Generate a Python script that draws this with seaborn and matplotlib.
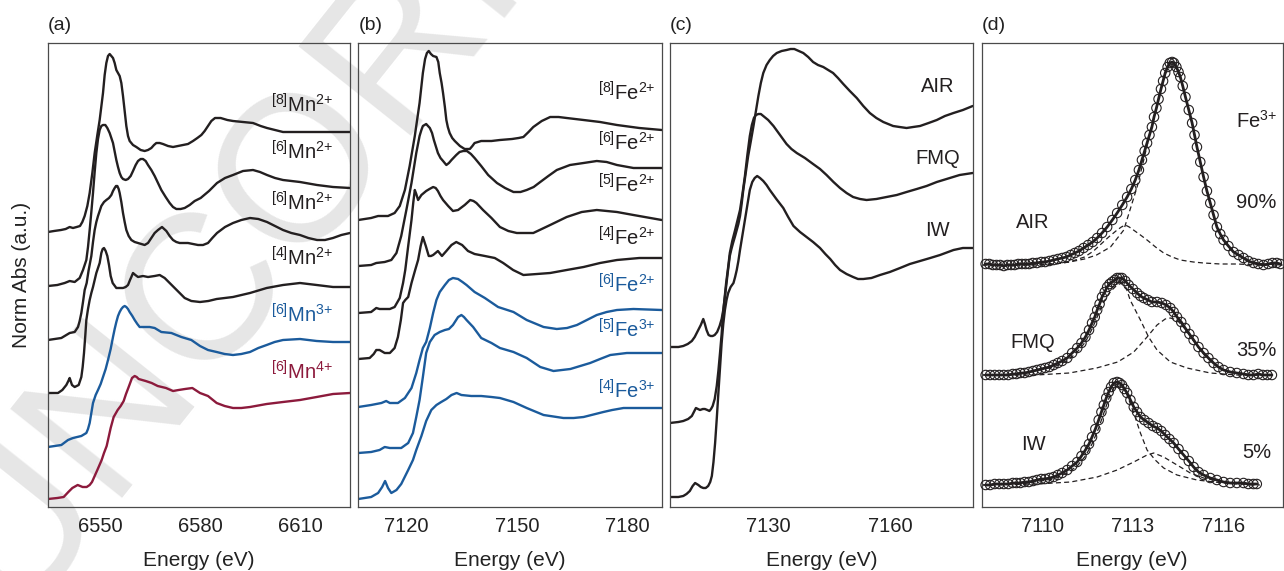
import matplotlib
matplotlib.use("Agg")
import matplotlib.pyplot as plt
import seaborn as sns

# ---------------- Panel (a): Mn K-edge standards ----------------
mn8_E = [6534.2, 6536.0, 6538.1, 6539.5, 6540.7, 6541.7, 6542.8, 6543.8, 6544.5, 6545.2, 6546.0, 6546.7, 6547.5, 6548.2, 6549.0, 6549.7, 6550.7, 6551.2, 6551.7, 6552.2, 6552.7, 6553.2, 6553.7, 6554.2, 6554.7, 6555.2, 6555.7, 6556.2, 6556.7, 6557.2, 6557.7, 6558.2, 6558.7, 6559.7, 6560.7, 6562.0, 6563.2, 6564.2, 6565.2, 6566.0, 6566.7, 6567.7, 6568.7, 6570.2, 6571.7, 6573.2, 6574.7, 6576.2, 6577.7, 6579.0, 6580.2, 6581.2, 6582.2, 6583.2, 6584.3, 6586.0, 6588.0, 6589.7, 6592.7, 6595.7, 6598.0, 6599.9, 6602.3, 6604.7, 6609.8, 6617.3, 6624.8]
mn8_A = [2.75, 2.76, 2.77, 2.78, 2.80, 2.79, 2.80, 2.81, 2.85, 2.91, 3.01, 3.14, 3.34, 3.54, 3.72, 3.87, 4.14, 4.32, 4.44, 4.51, 4.53, 4.51, 4.49, 4.44, 4.37, 4.34, 4.31, 4.24, 4.11, 3.96, 3.81, 3.71, 3.66, 3.62, 3.60, 3.57, 3.56, 3.57, 3.59, 3.62, 3.64, 3.64, 3.63, 3.61, 3.60, 3.61, 3.62, 3.63, 3.66, 3.69, 3.72, 3.76, 3.81, 3.86, 3.89, 3.89, 3.87, 3.86, 3.85, 3.84, 3.81, 3.79, 3.77, 3.75, 3.75, 3.75, 3.75]

mn6a_E = [6534.2, 6537.0, 6539.2, 6540.7, 6542.2, 6543.7, 6544.7, 6545.2, 6545.7, 6546.2, 6546.7, 6547.2, 6547.7, 6548.2, 6548.7, 6549.2, 6549.7, 6550.2, 6550.7, 6551.4, 6552.0, 6552.7, 6553.7, 6554.7, 6555.2, 6555.7, 6556.2, 6556.7, 6557.5, 6558.2, 6559.0, 6559.7, 6560.5, 6561.2, 6562.0, 6562.7, 6563.5, 6564.2, 6565.2, 6566.2, 6567.2, 6568.2, 6569.5, 6570.7, 6571.7, 6572.7, 6574.0, 6575.2, 6576.7, 6578.2, 6580.0, 6582.5, 6584.9, 6587.3, 6589.7, 6592.7, 6595.7, 6597.8, 6599.9, 6602.3, 6604.7, 6609.8, 6614.9, 6619.7, 6624.8]
mn6a_A = [2.21, 2.22, 2.24, 2.26, 2.25, 2.29, 2.37, 2.42, 2.47, 2.60, 2.77, 2.95, 3.14, 3.35, 3.54, 3.68, 3.77, 3.81, 3.82, 3.82, 3.79, 3.74, 3.64, 3.47, 3.40, 3.34, 3.30, 3.28, 3.27, 3.28, 3.31, 3.36, 3.42, 3.46, 3.48, 3.48, 3.46, 3.42, 3.37, 3.31, 3.24, 3.17, 3.10, 3.04, 3.00, 2.98, 2.98, 2.99, 3.02, 3.06, 3.09, 3.16, 3.24, 3.29, 3.32, 3.36, 3.37, 3.35, 3.32, 3.29, 3.27, 3.25, 3.22, 3.20, 3.19]

mn6b_E = [6534.2, 6538.2, 6540.7, 6542.2, 6543.2, 6543.7, 6544.2, 6544.7, 6545.2, 6545.8, 6546.4, 6547.2, 6547.7, 6548.2, 6548.7, 6549.2, 6549.7, 6550.2, 6551.0, 6551.7, 6552.5, 6553.2, 6553.7, 6554.2, 6554.6, 6555.0, 6555.4, 6555.7, 6556.2, 6556.7, 6557.2, 6557.7, 6558.4, 6559.2, 6560.2, 6561.2, 6562.2, 6563.2, 6564.2, 6565.2, 6566.2, 6567.2, 6568.4, 6569.7, 6570.7, 6571.7, 6572.7, 6573.7, 6576.2, 6579.2, 6580.7, 6582.2, 6583.5, 6584.9, 6587.3, 6589.7, 6592.2, 6594.8, 6597.3, 6599.9, 6602.3, 6604.7, 6607.2, 6609.8, 6612.3, 6614.9, 6617.3, 6619.7, 6622.2, 6624.8]
mn6b_A = [1.67, 1.69, 1.74, 1.75, 1.80, 1.86, 1.94, 2.05, 2.17, 2.24, 2.37, 2.51, 2.65, 2.77, 2.85, 2.91, 2.96, 3.01, 3.05, 3.07, 3.09, 3.12, 3.16, 3.19, 3.21, 3.21, 3.18, 3.14, 3.05, 2.94, 2.85, 2.77, 2.71, 2.67, 2.65, 2.64, 2.63, 2.62, 2.64, 2.69, 2.74, 2.77, 2.80, 2.76, 2.71, 2.67, 2.65, 2.64, 2.64, 2.62, 2.62, 2.64, 2.69, 2.74, 2.80, 2.84, 2.87, 2.89, 2.88, 2.85, 2.81, 2.77, 2.74, 2.72, 2.69, 2.67, 2.67, 2.69, 2.72, 2.74]

mn4_E = [6534.2, 6537.2, 6538.5, 6539.7, 6540.3, 6540.7, 6541.0, 6541.4, 6542.2, 6543.4, 6544.2, 6544.6, 6545.0, 6545.4, 6545.7, 6546.2, 6546.7, 6547.2, 6547.7, 6548.2, 6548.7, 6549.2, 6549.7, 6550.2, 6550.6, 6551.0, 6551.5, 6552.0, 6552.5, 6553.0, 6553.6, 6554.7, 6556.7, 6557.5, 6558.2, 6558.8, 6559.2, 6559.7, 6560.4, 6561.2, 6562.7, 6564.2, 6566.2, 6567.7, 6569.2, 6570.7, 6572.2, 6573.7, 6575.2, 6577.2, 6579.8, 6582.3, 6584.8, 6589.7, 6594.8, 6599.8, 6604.7, 6609.8, 6614.8, 6619.7, 6624.8]
mn4_A = [1.14, 1.14, 1.17, 1.22, 1.26, 1.29, 1.26, 1.22, 1.20, 1.22, 1.30, 1.40, 1.54, 1.72, 1.87, 1.98, 2.07, 2.14, 2.20, 2.27, 2.34, 2.39, 2.44, 2.54, 2.58, 2.59, 2.56, 2.51, 2.42, 2.31, 2.24, 2.19, 2.19, 2.20, 2.22, 2.27, 2.30, 2.34, 2.32, 2.30, 2.31, 2.30, 2.31, 2.32, 2.29, 2.24, 2.19, 2.14, 2.09, 2.06, 2.05, 2.06, 2.08, 2.10, 2.14, 2.19, 2.22, 2.24, 2.22, 2.20, 2.20]

mn3_E = [6534.2, 6538.2, 6540.2, 6541.7, 6544.2, 6545.7, 6546.2, 6546.7, 6547.2, 6547.7, 6548.5, 6549.2, 6550.0, 6550.7, 6551.5, 6552.2, 6553.0, 6553.7, 6554.2, 6554.7, 6555.2, 6555.7, 6556.2, 6556.7, 6557.2, 6557.7, 6558.2, 6558.7, 6559.5, 6560.2, 6561.0, 6561.7, 6562.5, 6563.2, 6564.7, 6566.2, 6568.2, 6571.2, 6574.2, 6577.2, 6579.8, 6582.2, 6584.8, 6587.2, 6589.7, 6592.2, 6594.8, 6597.3, 6599.8, 6602.2, 6604.7, 6609.8, 6614.8, 6619.7, 6624.8]
mn3_A = [0.60, 0.62, 0.67, 0.69, 0.71, 0.74, 0.78, 0.84, 0.94, 1.04, 1.12, 1.17, 1.23, 1.30, 1.38, 1.47, 1.58, 1.70, 1.78, 1.85, 1.91, 1.95, 1.98, 2.00, 2.01, 2.00, 1.98, 1.95, 1.91, 1.87, 1.83, 1.80, 1.80, 1.80, 1.80, 1.79, 1.75, 1.74, 1.70, 1.67, 1.61, 1.57, 1.55, 1.53, 1.52, 1.53, 1.55, 1.59, 1.62, 1.65, 1.67, 1.68, 1.66, 1.65, 1.65]

mn4p_E = [6534.2, 6537.0, 6538.9, 6540.3, 6541.5, 6543.1, 6544.6, 6545.8, 6546.7, 6547.4, 6548.2, 6549.0, 6550.3, 6551.0, 6551.8, 6552.4, 6553.0, 6553.9, 6555.1, 6556.0, 6556.9, 6557.6, 6558.4, 6559.4, 6560.2, 6560.8, 6561.4, 6563.5, 6565.3, 6567.1, 6569.6, 6571.7, 6573.4, 6575.3, 6577.5, 6579.8, 6582.2, 6584.8, 6587.2, 6589.7, 6592.2, 6594.8, 6599.8, 6604.7, 6609.8, 6614.8, 6619.7, 6624.8]
mn4p_A = [0.08, 0.09, 0.10, 0.15, 0.19, 0.22, 0.20, 0.20, 0.22, 0.25, 0.31, 0.37, 0.47, 0.54, 0.61, 0.70, 0.79, 0.90, 0.97, 1.01, 1.06, 1.13, 1.20, 1.29, 1.31, 1.30, 1.28, 1.26, 1.24, 1.21, 1.19, 1.16, 1.17, 1.18, 1.19, 1.14, 1.11, 1.04, 1.01, 0.99, 0.99, 1.00, 1.03, 1.05, 1.07, 1.10, 1.13, 1.14]

# ---------------- Panel (b): Fe K-edge standards ----------------
fe8_E = [7106.8, 7110.3, 7112.2, 7114.9, 7116.7, 7118.1, 7119.5, 7120.8, 7122.2, 7123.5, 7124.4, 7125.0, 7125.5, 7126.0, 7126.6, 7127.2, 7128.1, 7128.6, 7129.0, 7129.5, 7129.9, 7130.4, 7130.8, 7131.2, 7131.7, 7132.4, 7133.1, 7134.5, 7135.8, 7137.2, 7137.9, 7138.5, 7140.3, 7143.1, 7145.4, 7148.7, 7150.5, 7151.8, 7153.2, 7154.5, 7156.8, 7159.1, 7161.4, 7163.6, 7168.2, 7172.7, 7177.3, 7183.4, 7189.5]
fe8_A = [2.87, 2.89, 2.91, 2.91, 2.94, 3.01, 3.17, 3.41, 3.71, 4.04, 4.34, 4.48, 4.54, 4.56, 4.53, 4.51, 4.50, 4.45, 4.34, 4.24, 4.14, 4.00, 3.87, 3.80, 3.74, 3.69, 3.66, 3.61, 3.58, 3.58, 3.61, 3.64, 3.66, 3.66, 3.67, 3.68, 3.69, 3.70, 3.75, 3.80, 3.86, 3.90, 3.90, 3.89, 3.87, 3.85, 3.82, 3.79, 3.77]

fe6_E = [7106.8, 7110.3, 7111.7, 7114.0, 7115.8, 7117.2, 7118.5, 7119.9, 7121.3, 7122.6, 7123.5, 7124.0, 7124.4, 7125.3, 7126.3, 7126.9, 7127.4, 7128.5, 7129.2, 7129.9, 7130.8, 7131.5, 7132.2, 7133.5, 7134.4, 7135.4, 7136.4, 7137.5, 7138.5, 7140.3, 7142.2, 7144.6, 7146.8, 7149.1, 7151.0, 7152.7, 7154.6, 7156.4, 7158.6, 7160.9, 7164.5, 7168.2, 7171.8, 7174.5, 7177.3, 7181.8, 7189.5]
fe6_A = [2.41, 2.42, 2.44, 2.45, 2.47, 2.54, 2.71, 2.97, 3.24, 3.54, 3.71, 3.77, 3.81, 3.83, 3.79, 3.74, 3.67, 3.54, 3.49, 3.46, 3.42, 3.44, 3.47, 3.52, 3.55, 3.56, 3.56, 3.53, 3.49, 3.41, 3.32, 3.24, 3.19, 3.15, 3.15, 3.17, 3.20, 3.25, 3.31, 3.37, 3.42, 3.44, 3.46, 3.45, 3.42, 3.39, 3.39]

fe5_E = [7106.8, 7110.3, 7111.7, 7112.6, 7115.4, 7116.7, 7118.1, 7119.0, 7119.6, 7120.4, 7121.3, 7121.8, 7122.2, 7122.6, 7123.1, 7124.0, 7125.3, 7126.2, 7127.2, 7127.9, 7128.5, 7129.2, 7129.9, 7131.3, 7132.6, 7134.0, 7135.8, 7137.3, 7138.2, 7139.0, 7140.8, 7143.1, 7145.4, 7147.7, 7150.0, 7154.5, 7156.8, 7159.1, 7163.6, 7167.7, 7171.8, 7177.3, 7181.8, 7189.5]
fe5_A = [1.94, 1.95, 1.99, 1.98, 1.98, 2.00, 2.09, 2.24, 2.37, 2.61, 2.87, 3.05, 3.17, 3.13, 3.07, 3.12, 3.16, 3.18, 3.20, 3.19, 3.16, 3.11, 3.07, 3.01, 2.96, 2.97, 3.02, 3.07, 3.06, 3.04, 2.97, 2.89, 2.80, 2.76, 2.74, 2.74, 2.78, 2.82, 2.90, 2.95, 2.97, 2.95, 2.92, 2.87]

fe4_E = [7106.8, 7109.9, 7111.0, 7111.7, 7112.6, 7114.0, 7115.4, 7116.7, 7117.6, 7118.4, 7119.0, 7119.6, 7120.4, 7121.3, 7122.3, 7123.1, 7123.8, 7124.4, 7125.2, 7126.0, 7126.6, 7127.2, 7128.5, 7129.6, 7130.8, 7132.2, 7133.5, 7135.1, 7136.7, 7138.5, 7141.3, 7144.0, 7146.3, 7149.0, 7151.8, 7155.5, 7159.1, 7163.6, 7168.2, 7172.7, 7177.3, 7183.4, 7189.5]
fe4_A = [1.48, 1.49, 1.53, 1.57, 1.57, 1.54, 1.54, 1.59, 1.70, 1.87, 2.04, 2.07, 2.10, 2.24, 2.37, 2.47, 2.61, 2.70, 2.61, 2.51, 2.51, 2.52, 2.56, 2.51, 2.56, 2.62, 2.65, 2.62, 2.56, 2.53, 2.51, 2.49, 2.44, 2.37, 2.32, 2.33, 2.34, 2.37, 2.40, 2.44, 2.47, 2.49, 2.49]

fe6b_E = [7106.8, 7110.3, 7113.1, 7114.4, 7115.4, 7117.6, 7119.5, 7121.3, 7122.6, 7123.5, 7124.4, 7125.3, 7126.3, 7127.2, 7128.1, 7129.0, 7130.4, 7131.5, 7132.6, 7134.0, 7135.2, 7136.3, 7138.5, 7141.3, 7144.9, 7149.1, 7152.7, 7157.3, 7160.9, 7163.7, 7166.4, 7169.1, 7171.8, 7174.5, 7177.3, 7181.8, 7189.5]
fe6b_A = [1.00, 1.02, 1.04, 1.06, 1.04, 1.04, 1.09, 1.19, 1.34, 1.47, 1.59, 1.65, 1.79, 1.94, 2.07, 2.15, 2.22, 2.27, 2.29, 2.28, 2.25, 2.22, 2.15, 2.09, 2.00, 1.95, 1.87, 1.80, 1.78, 1.79, 1.82, 1.87, 1.92, 1.95, 1.97, 1.98, 1.97]

fe5t_E = [7106.8, 7110.3, 7112.6, 7114.0, 7115.4, 7118.5, 7120.4, 7121.7, 7122.6, 7123.5, 7124.4, 7125.3, 7126.3, 7127.6, 7129.0, 7130.4, 7131.5, 7132.6, 7134.0, 7134.9, 7135.6, 7136.3, 7138.1, 7140.3, 7143.1, 7145.4, 7149.1, 7152.7, 7156.4, 7160.0, 7164.6, 7167.3, 7170.0, 7172.7, 7175.5, 7180.0, 7189.5]
fe5t_A = [0.54, 0.55, 0.57, 0.60, 0.59, 0.59, 0.64, 0.74, 0.90, 1.07, 1.30, 1.54, 1.65, 1.72, 1.75, 1.77, 1.78, 1.82, 1.90, 1.92, 1.90, 1.87, 1.80, 1.69, 1.64, 1.59, 1.55, 1.49, 1.40, 1.36, 1.38, 1.41, 1.44, 1.48, 1.52, 1.54, 1.54]

fe4t_E = [7106.8, 7110.3, 7112.2, 7113.3, 7114.1, 7114.9, 7115.8, 7117.2, 7118.5, 7120.4, 7121.7, 7122.6, 7124.0, 7125.3, 7126.7, 7128.1, 7129.4, 7130.8, 7132.2, 7133.6, 7134.9, 7137.6, 7140.3, 7143.1, 7145.4, 7149.1, 7152.7, 7157.3, 7162.7, 7165.5, 7168.2, 7173.6, 7176.0, 7179.1, 7189.5]
fe4t_A = [0.08, 0.10, 0.14, 0.20, 0.26, 0.19, 0.14, 0.17, 0.23, 0.37, 0.47, 0.57, 0.71, 0.86, 0.97, 1.02, 1.05, 1.08, 1.12, 1.14, 1.12, 1.11, 1.11, 1.10, 1.09, 1.05, 0.99, 0.92, 0.89, 0.89, 0.90, 0.95, 0.97, 0.99, 0.99]

# ---------------- Panel (c): glasses ----------------
air_E = [7105.9, 7108.0, 7109.2, 7110.3, 7111.3, 7112.0, 7112.5, 7113.0, 7113.5, 7114.1, 7114.5, 7114.9, 7115.4, 7115.9, 7116.4, 7116.9, 7117.5, 7118.1, 7118.6, 7119.0, 7119.4, 7119.8, 7120.2, 7120.6, 7121.0, 7121.4, 7121.9, 7122.3, 7122.7, 7123.1, 7123.5, 7123.9, 7124.5, 7125.1, 7125.8, 7126.4, 7127.0, 7127.6, 7128.2, 7128.8, 7129.6, 7130.4, 7131.2, 7132.1, 7133.3, 7134.5, 7135.5, 7136.4, 7137.5, 7138.6, 7139.8, 7141.0, 7142.2, 7143.5, 7144.7, 7145.9, 7147.1, 7148.4, 7150.0, 7151.7, 7153.3, 7154.9, 7156.5, 7158.2, 7160.6, 7162.2, 7163.9, 7165.5, 7167.2, 7169.3, 7171.3, 7173.3, 7175.4, 7177.7, 7180.1]
air_A = [1.60, 1.60, 1.61, 1.63, 1.66, 1.70, 1.74, 1.78, 1.82, 1.88, 1.83, 1.77, 1.72, 1.71, 1.71, 1.72, 1.75, 1.81, 1.88, 1.97, 2.10, 2.24, 2.38, 2.51, 2.58, 2.64, 2.71, 2.77, 2.83, 2.91, 3.03, 3.17, 3.34, 3.51, 3.67, 3.81, 3.96, 4.11, 4.24, 4.34, 4.42, 4.47, 4.51, 4.54, 4.56, 4.57, 4.58, 4.58, 4.56, 4.54, 4.50, 4.45, 4.42, 4.40, 4.37, 4.34, 4.29, 4.23, 4.16, 4.09, 4.01, 3.94, 3.89, 3.85, 3.81, 3.80, 3.79, 3.80, 3.81, 3.84, 3.87, 3.91, 3.94, 3.97, 4.01]

fmq_E = [7105.9, 7108.0, 7109.2, 7110.4, 7111.3, 7111.8, 7112.3, 7112.8, 7113.3, 7114.0, 7114.5, 7115.1, 7115.6, 7116.0, 7116.4, 7116.9, 7117.4, 7117.8, 7118.2, 7118.6, 7118.9, 7119.3, 7119.7, 7120.2, 7120.6, 7121.2, 7121.9, 7122.5, 7123.1, 7123.7, 7124.3, 7124.9, 7125.5, 7126.0, 7126.5, 7127.0, 7127.6, 7128.2, 7128.8, 7130.0, 7131.3, 7132.9, 7134.5, 7135.7, 7137.0, 7139.0, 7141.0, 7142.7, 7144.3, 7146.0, 7147.6, 7149.2, 7150.8, 7152.5, 7154.1, 7156.5, 7159.0, 7161.5, 7163.9, 7166.4, 7168.8, 7171.3, 7173.7, 7176.9, 7180.1]
fmq_A = [0.84, 0.85, 0.86, 0.88, 0.91, 0.95, 0.99, 0.98, 0.97, 0.98, 0.98, 0.97, 0.96, 0.98, 1.01, 1.08, 1.21, 1.36, 1.54, 1.73, 1.91, 2.08, 2.24, 2.40, 2.54, 2.66, 2.77, 2.87, 2.97, 3.13, 3.31, 3.52, 3.71, 3.82, 3.89, 3.92, 3.93, 3.93, 3.91, 3.87, 3.81, 3.72, 3.63, 3.58, 3.54, 3.49, 3.43, 3.38, 3.32, 3.25, 3.19, 3.14, 3.10, 3.08, 3.07, 3.08, 3.10, 3.12, 3.15, 3.18, 3.21, 3.25, 3.28, 3.32, 3.34]

iw_E = [7105.9, 7108.0, 7109.2, 7110.0, 7110.8, 7111.5, 7112.1, 7112.5, 7112.9, 7113.5, 7114.1, 7114.7, 7115.3, 7115.8, 7116.2, 7116.6, 7117.0, 7117.4, 7117.8, 7118.2, 7118.6, 7119.0, 7119.4, 7119.8, 7120.2, 7120.8, 7121.5, 7121.9, 7122.3, 7122.7, 7123.1, 7123.7, 7124.3, 7124.9, 7125.5, 7126.1, 7126.7, 7127.3, 7128.0, 7128.8, 7129.6, 7130.4, 7132.0, 7133.7, 7134.9, 7136.2, 7137.8, 7139.4, 7141.0, 7142.7, 7144.0, 7145.2, 7146.4, 7147.6, 7149.2, 7150.8, 7152.0, 7153.3, 7155.3, 7157.4, 7159.8, 7162.3, 7164.7, 7167.2, 7169.7, 7172.1, 7175.4, 7177.7, 7180.1]
iw_A = [0.10, 0.10, 0.11, 0.13, 0.16, 0.21, 0.24, 0.23, 0.22, 0.20, 0.19, 0.19, 0.21, 0.25, 0.31, 0.45, 0.64, 0.88, 1.14, 1.39, 1.64, 1.83, 1.97, 2.07, 2.14, 2.20, 2.24, 2.30, 2.37, 2.46, 2.57, 2.72, 2.87, 3.02, 3.17, 3.25, 3.29, 3.31, 3.29, 3.26, 3.22, 3.17, 3.08, 2.99, 2.90, 2.81, 2.75, 2.70, 2.65, 2.59, 2.53, 2.48, 2.42, 2.37, 2.33, 2.30, 2.28, 2.28, 2.29, 2.32, 2.35, 2.39, 2.43, 2.46, 2.49, 2.52, 2.57, 2.59, 2.59]

# ---------------- Panel (d): pre-edge data and fit components ----------------
pe_air_E = [7108.13, 7108.25, 7108.37, 7108.49, 7108.61, 7108.73, 7108.85, 7108.97, 7109.09, 7109.21, 7109.33, 7109.45, 7109.57, 7109.69, 7109.83, 7109.97, 7110.10, 7110.24, 7110.38, 7110.52, 7110.66, 7110.80, 7110.94, 7111.08, 7111.22, 7111.37, 7111.52, 7111.67, 7111.82, 7111.98, 7112.15, 7112.32, 7112.48, 7112.65, 7112.81, 7112.95, 7113.08, 7113.20, 7113.30, 7113.39, 7113.47, 7113.55, 7113.63, 7113.70, 7113.78, 7113.85, 7113.93, 7114.00, 7114.07, 7114.15, 7114.22, 7114.30, 7114.36, 7114.44, 7114.51, 7114.57, 7114.65, 7114.74, 7114.85, 7114.96, 7115.04, 7115.12, 7115.23, 7115.34, 7115.45, 7115.56, 7115.67, 7115.78, 7115.89, 7116.00, 7116.16, 7116.33, 7116.50, 7116.66, 7116.82, 7116.99, 7117.15, 7117.32, 7117.48, 7117.62, 7117.76, 7117.88]
pe_air_A = [2.43, 2.43, 2.42, 2.42, 2.42, 2.41, 2.42, 2.42, 2.42, 2.43, 2.43, 2.43, 2.43, 2.44, 2.44, 2.45, 2.45, 2.46, 2.47, 2.48, 2.49, 2.50, 2.52, 2.54, 2.56, 2.59, 2.62, 2.65, 2.69, 2.74, 2.80, 2.87, 2.94, 3.02, 3.10, 3.18, 3.27, 3.37, 3.47, 3.56, 3.64, 3.72, 3.80, 3.90, 3.99, 4.08, 4.18, 4.26, 4.34, 4.40, 4.44, 4.45, 4.44, 4.40, 4.35, 4.30, 4.21, 4.10, 3.97, 3.84, 3.72, 3.60, 3.45, 3.30, 3.16, 3.04, 2.92, 2.80, 2.73, 2.67, 2.61, 2.55, 2.52, 2.49, 2.46, 2.44, 2.43, 2.42, 2.43, 2.44, 2.44, 2.43]

pe_fmq_E = [7108.13, 7108.28, 7108.43, 7108.58, 7108.73, 7108.88, 7109.03, 7109.15, 7109.28, 7109.42, 7109.56, 7109.70, 7109.83, 7109.97, 7110.10, 7110.24, 7110.38, 7110.52, 7110.66, 7110.83, 7110.99, 7111.16, 7111.30, 7111.43, 7111.55, 7111.65, 7111.74, 7111.82, 7111.90, 7111.98, 7112.07, 7112.15, 7112.23, 7112.31, 7112.40, 7112.48, 7112.56, 7112.64, 7112.75, 7112.86, 7113.00, 7113.14, 7113.25, 7113.36, 7113.50, 7113.63, 7113.80, 7113.96, 7114.10, 7114.24, 7114.35, 7114.46, 7114.60, 7114.73, 7114.87, 7115.01, 7115.17, 7115.34, 7115.50, 7115.67, 7115.83, 7116.00, 7116.22, 7116.44, 7116.66, 7116.82, 7116.99, 7117.15, 7117.30, 7117.45, 7117.60]
pe_fmq_A = [1.32, 1.32, 1.32, 1.32, 1.32, 1.32, 1.33, 1.33, 1.34, 1.34, 1.35, 1.36, 1.37, 1.38, 1.39, 1.40, 1.42, 1.44, 1.46, 1.49, 1.54, 1.59, 1.64, 1.70, 1.77, 1.84, 1.90, 1.97, 2.03, 2.10, 2.15, 2.20, 2.23, 2.25, 2.27, 2.29, 2.29, 2.29, 2.26, 2.22, 2.18, 2.14, 2.11, 2.09, 2.07, 2.05, 2.05, 2.04, 2.02, 1.99, 1.95, 1.90, 1.85, 1.79, 1.73, 1.67, 1.60, 1.54, 1.49, 1.44, 1.40, 1.37, 1.35, 1.34, 1.33, 1.32, 1.32, 1.33, 1.32, 1.32, 1.32]

pe_iw_E = [7108.13, 7108.28, 7108.43, 7108.58, 7108.73, 7108.88, 7109.03, 7109.15, 7109.28, 7109.42, 7109.56, 7109.70, 7109.83, 7109.97, 7110.10, 7110.24, 7110.38, 7110.52, 7110.66, 7110.83, 7110.99, 7111.16, 7111.30, 7111.43, 7111.55, 7111.65, 7111.76, 7111.87, 7111.96, 7112.04, 7112.12, 7112.20, 7112.28, 7112.37, 7112.48, 7112.56, 7112.64, 7112.72, 7112.81, 7112.92, 7113.03, 7113.14, 7113.25, 7113.38, 7113.52, 7113.66, 7113.80, 7113.94, 7114.07, 7114.21, 7114.35, 7114.51, 7114.68, 7114.85, 7115.01, 7115.17, 7115.34, 7115.56, 7115.78, 7116.00, 7116.22, 7116.44, 7116.66, 7116.82, 7116.99, 7117.10]
pe_iw_A = [0.22, 0.22, 0.23, 0.23, 0.23, 0.23, 0.24, 0.24, 0.24, 0.25, 0.25, 0.26, 0.27, 0.28, 0.28, 0.29, 0.30, 0.32, 0.34, 0.37, 0.41, 0.45, 0.51, 0.57, 0.63, 0.70, 0.78, 0.87, 0.95, 1.02, 1.09, 1.15, 1.20, 1.24, 1.25, 1.24, 1.22, 1.18, 1.14, 1.07, 1.00, 0.95, 0.90, 0.87, 0.84, 0.81, 0.79, 0.76, 0.72, 0.68, 0.64, 0.58, 0.52, 0.46, 0.40, 0.35, 0.32, 0.29, 0.27, 0.25, 0.24, 0.24, 0.24, 0.23, 0.23, 0.23]

air_fe2_E = [7108.0, 7109.0, 7109.8, 7110.4, 7110.9, 7111.4, 7111.7, 7111.95, 7112.2, 7112.48, 7112.62, 7112.75, 7112.88, 7113.02, 7113.25, 7113.47, 7113.75, 7114.02, 7114.3, 7114.57, 7115.0, 7115.34, 7115.9, 7116.44, 7117.2, 7117.95]
air_fe2_A = [2.42, 2.42, 2.43, 2.43, 2.45, 2.50, 2.56, 2.63, 2.70, 2.77, 2.80, 2.82, 2.80, 2.77, 2.72, 2.67, 2.60, 2.54, 2.50, 2.47, 2.45, 2.44, 2.43, 2.43, 2.42, 2.42]
air_fe3_E = [7108.0, 7109.0, 7109.8, 7110.4, 7110.9, 7111.4, 7111.8, 7112.26, 7112.70, 7113.14, 7113.36, 7113.55, 7113.70, 7113.85, 7114.00, 7114.15, 7114.30, 7114.44, 7114.57, 7114.74, 7114.96, 7115.12, 7115.34, 7115.56, 7115.78, 7116.00, 7116.33, 7116.66, 7116.99, 7117.32, 7117.95]
air_fe3_A = [2.42, 2.42, 2.42, 2.43, 2.45, 2.48, 2.52, 2.60, 2.77, 3.20, 3.47, 3.72, 3.90, 4.08, 4.26, 4.40, 4.45, 4.40, 4.30, 4.10, 3.84, 3.60, 3.30, 3.04, 2.80, 2.67, 2.55, 2.49, 2.45, 2.43, 2.42]

fmq_fe2_E = [7108.0, 7109.3, 7110.38, 7110.83, 7111.16, 7111.43, 7111.65, 7111.82, 7111.98, 7112.15, 7112.31, 7112.48, 7112.64, 7112.78, 7112.91, 7113.25, 7113.52, 7113.80, 7114.24, 7114.79, 7115.56, 7116.44, 7117.6]
fmq_fe2_A = [1.32, 1.33, 1.40, 1.46, 1.55, 1.65, 1.78, 1.90, 2.02, 2.11, 2.17, 2.22, 2.24, 2.19, 2.07, 1.87, 1.70, 1.57, 1.45, 1.39, 1.34, 1.32, 1.32]
fmq_fe3_E = [7108.0, 7109.8, 7110.9, 7111.8, 7112.5, 7113.03, 7113.47, 7113.8, 7114.07, 7114.24, 7114.46, 7114.73, 7115.01, 7115.34, 7115.67, 7116.0, 7116.44, 7117.0, 7117.6]
fmq_fe3_A = [1.32, 1.32, 1.34, 1.39, 1.45, 1.55, 1.70, 1.82, 1.88, 1.89, 1.87, 1.78, 1.66, 1.53, 1.43, 1.37, 1.34, 1.32, 1.32]

iw_fe2_E = [7108.0, 7109.3, 7110.38, 7110.83, 7111.16, 7111.43, 7111.65, 7111.87, 7112.04, 7112.20, 7112.37, 7112.48, 7112.60, 7112.81, 7113.03, 7113.25, 7113.47, 7113.74, 7114.02, 7114.46, 7115.12, 7116.0, 7117.0]
iw_fe2_A = [0.22, 0.23, 0.28, 0.34, 0.41, 0.51, 0.63, 0.79, 0.94, 1.08, 1.19, 1.23, 1.24, 1.12, 0.94, 0.74, 0.57, 0.47, 0.39, 0.32, 0.27, 0.24, 0.22]
iw_fe3_E = [7108.0, 7109.83, 7110.94, 7111.82, 7112.48, 7113.03, 7113.47, 7113.69, 7114.02, 7114.46, 7114.90, 7115.34, 7116.0, 7116.77, 7117.2]
iw_fe3_A = [0.22, 0.23, 0.25, 0.30, 0.37, 0.45, 0.52, 0.54, 0.50, 0.42, 0.34, 0.29, 0.25, 0.23, 0.22]

# ---------------- labels ----------------
labels_a = [r"$^{[8]}$Mn$^{2{+}}$", r"$^{[6]}$Mn$^{2{+}}$", r"$^{[6]}$Mn$^{2{+}}$", r"$^{[4]}$Mn$^{2{+}}$", r"$^{[6]}$Mn$^{3{+}}$", r"$^{[6]}$Mn$^{4{+}}$"]
labels_b = [r"$^{[8]}$Fe$^{2{+}}$", r"$^{[6]}$Fe$^{2{+}}$", r"$^{[5]}$Fe$^{2{+}}$", r"$^{[4]}$Fe$^{2{+}}$", r"$^{[6]}$Fe$^{2{+}}$", r"$^{[5]}$Fe$^{3{+}}$", r"$^{[4]}$Fe$^{3{+}}$"]
labels_c = ["AIR", "FMQ", "IW"]
pct_d = ["90%", "35%", "5%"]

# ---------------- style ----------------
sns.set_style("white")
plt.rcParams["font.family"] = ["Liberation Sans", "DejaVu Sans"]
plt.rcParams["mathtext.fontset"] = "custom"
plt.rcParams["mathtext.rm"] = "Liberation Sans"
plt.rcParams["mathtext.it"] = "Liberation Sans:italic"
plt.rcParams["mathtext.bf"] = "Liberation Sans:bold"

BLACK = "#231f20"
BLUE = "#1b5b9c"
RED = "#8c1a3c"
SPINE = "#4a4a4a"
TXT = "#222222"

W, H = 1284, 571
fig = plt.figure(figsize=(W / 100, H / 100), dpi=100)
fig.patch.set_facecolor("white")

# watermark behind everything
fig.text(-24 / W, 1 - 595 / H, "UNCORRECTED PROOF", rotation=51.5, rotation_mode="anchor",
         ha="left", va="center", fontsize=150, color="#e6e6e6", zorder=-10)

ybot, ytop = 507, 43
panels_px = [(48, 350), (358.3, 661.7), (670, 972.7), (981.7, 1282.5)]
axs = [fig.add_axes([l / W, 1 - ybot / H, (r - l) / W, (ybot - ytop) / H]) for l, r in panels_px]

xlims = [(6534.2, 6624.8), (7106.8, 7189.5), (7105.95, 7180.1), (7108.0, 7117.95)]
xticks = [[6535, 6550, 6565, 6580, 6595, 6610],
          [7120, 7135, 7150, 7165, 7180],
          [7115, 7130, 7145, 7160, 7175],
          [7108.5, 7110, 7111.5, 7113, 7114.5, 7116, 7117.5]]
xticklabels = [["", "6550", "", "6580", "", "6610"],
               ["7120", "", "7150", "", "7180"],
               ["", "7130", "", "7160", ""],
               ["", "7110", "", "7113", "", "7116", ""]]

for ax, xl, xt, xtl, tag in zip(axs, xlims, xticks, xticklabels, ["(a)", "(b)", "(c)", "(d)"]):
    ax.set_facecolor("none")
    ax.set_xlim(*xl)
    ax.set_ylim(0, 4.64)
    ax.set_yticks([])
    ax.set_xticks(xt)
    ax.set_xticklabels(xtl)
    ax.tick_params(axis="x", direction="in", length=5, width=0.8, color=SPINE,
                   labelsize=14.5, pad=7, labelcolor=TXT)
    for s in ax.spines.values():
        s.set_color(SPINE)
        s.set_linewidth(0.9)
    ax.set_xlabel("Energy (eV)", fontsize=15, labelpad=11, color=TXT)
    fig.text(ax.get_position().x0, 1 - 26 / H, tag, ha="left", va="center", fontsize=14, color=TXT)

fig.text(22 / W, 1 - 275 / H, "Norm Abs (a.u.)", rotation=90, ha="center", va="center",
         fontsize=15, color=TXT)


def curve(ax, E, A, color, lw=1.7, ls="-"):
    sns.lineplot(x=E, y=A, ax=ax, color=color, lw=lw, sort=False, estimator=None, legend=False)
    ln = ax.lines[-1]
    if ls == "--":
        ln.set_linestyle((0, (4.0, 2.6)))
    ln.set_solid_joinstyle("round")
    ln.set_solid_capstyle("round")
    return ln


# panel (a)
axa = axs[0]
a_series = [(mn8_E, mn8_A, BLACK), (mn6a_E, mn6a_A, BLACK), (mn6b_E, mn6b_A, BLACK),
            (mn4_E, mn4_A, BLACK), (mn3_E, mn3_A, BLUE), (mn4p_E, mn4p_A, RED)]
for E, A, c in a_series:
    curve(axa, E, A, c)
a_lab_y = [4.02, 3.55, 3.04, 2.49, 1.92, 1.35]
for lab, yy, (_, _, c) in zip(labels_a, a_lab_y, a_series):
    axa.text(6619.7, yy, lab, ha="right", va="center", fontsize=14.5, color=c)

# panel (b)
axb = axs[1]
b_series = [(fe8_E, fe8_A, BLACK), (fe6_E, fe6_A, BLACK), (fe5_E, fe5_A, BLACK), (fe4_E, fe4_A, BLACK),
            (fe6b_E, fe6b_A, BLUE), (fe5t_E, fe5t_A, BLUE), (fe4t_E, fe4t_A, BLUE)]
for E, A, c in b_series:
    curve(axb, E, A, c)
b_lab_y = [4.14, 3.64, 3.22, 2.69, 2.22, 1.77, 1.16]
for lab, yy, (_, _, c) in zip(labels_b, b_lab_y, b_series):
    axb.text(7187.7, yy, lab, ha="right", va="center", fontsize=14.5, color=c)

# panel (c)
axc = axs[2]
for E, A in [(air_E, air_A), (fmq_E, fmq_A), (iw_E, iw_A)]:
    curve(axc, E, A, BLACK)
for lab, yy in zip(labels_c, [4.20, 3.49, 2.76]):
    axc.text(7171.5, yy, lab, ha="center", va="center", fontsize=14.5, color=BLACK)

# panel (d)
axd = axs[3]
for E, A in [(air_fe2_E, air_fe2_A), (air_fe3_E, air_fe3_A), (fmq_fe2_E, fmq_fe2_A),
             (fmq_fe3_E, fmq_fe3_A), (iw_fe2_E, iw_fe2_A), (iw_fe3_E, iw_fe3_A)]:
    curve(axd, E, A, BLACK, lw=0.9, ls="--")
for E, A in [(pe_air_E, pe_air_A), (pe_fmq_E, pe_fmq_A), (pe_iw_E, pe_iw_A)]:
    sns.scatterplot(x=E, y=A, ax=axd, s=46, marker="o", facecolor="none", edgecolor=BLACK,
                    linewidth=0.8, legend=False, zorder=3)
    pc = axd.collections[-1]
    pc.set_facecolor("none")
    pc.set_edgecolor(BLACK)
    pc.set_clip_on(False)
    curve(axd, E, A, BLACK, lw=2.0)
    axd.lines[-1].set_zorder(4)

for lab, yy in zip(labels_c, [2.84, 1.65, 0.62]):
    axd.text(7109.7, yy, lab, ha="center", va="center", fontsize=14.5, color=BLACK)
axd.text(7117.09, 3.86, r"Fe$^{3{+}}$", ha="center", va="center", fontsize=14.5, color=BLACK)
for lab, yy in zip(pct_d, [3.04, 1.57, 0.55]):
    axd.text(7117.09, yy, lab, ha="center", va="center", fontsize=14.5, color=BLACK)

fig.savefig("out.png", dpi=100, facecolor="white")
